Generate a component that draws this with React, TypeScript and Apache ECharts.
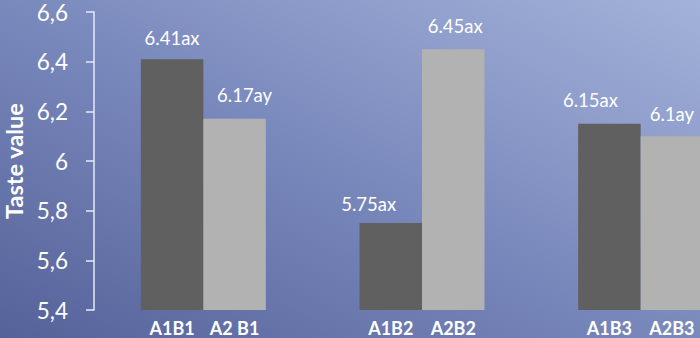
import React, { useEffect, useRef } from "react";
import * as echarts from "echarts";

const categories = ["B1", "B2", "B3"];
const darkNames = ["A1B1", "A1B2", "A1B3"];
const lightNames = ["A2 B1", "A2B2", "A2B3"];
const darkValues = [6.41, 5.75, 6.15];
const lightValues = [6.17, 6.45, 6.1];
const darkLabels = ["6.41ax", "5.75ax", "6.15ax"];
const lightLabels = ["6.17ay", "6.45ax", "6.1ay"];

// label placement tweaks (style, not data)
const darkLabelOffsets = [[0, 1], [-22, 3], [-19, -1]];
const lightLabelOffsets = [[10, -1], [2, -1], [0, 0]];

const FONT = "Lato, 'Open Sans', sans-serif";

export default function App() {
  const ref = useRef<HTMLDivElement>(null);
  useEffect(() => {
    if (!ref.current) return;
    const chart = echarts.init(ref.current, null, { renderer: "svg" });
    const mk = (vals: number[], labels: string[], offs: number[][]) =>
      vals.map((v, i) => ({
        value: v,
        label: { formatter: labels[i], offset: offs[i] },
      }));
    chart.setOption({
      animation: false,
      backgroundColor: new echarts.graphic.LinearGradient(0, 1, 1, 0, [
        { offset: 0, color: "#55629a" },
        { offset: 0.5, color: "#7a89bc" },
        { offset: 1, color: "#a3b2d9" },
      ]),
      grid: {
        left: 94,
        top: 12,
        height: 298,
        width: 656,
        containLabel: false,
        outerBoundsMode: "none",
      },
      xAxis: {
        type: "category",
        data: categories,
        axisLine: { show: false },
        axisTick: { show: false },
        splitLine: { show: false },
        axisLabel: {
          margin: 9,
          interval: 0,
          hideOverlap: false,
          formatter: (_v: string, i: number) =>
            `{a|${darkNames[i]}}{b|${lightNames[i]}}`,
          rich: {
            a: { width: 62.5, align: "center", color: "#ffffff", fontWeight: "bold", fontSize: 18, fontFamily: FONT },
            b: { width: 62.5, align: "center", color: "#ffffff", fontWeight: "bold", fontSize: 18, fontFamily: FONT },
          },
        },
      },
      yAxis: {
        type: "value",
        min: 5.4,
        max: 6.6,
        interval: 0.2,
        name: "Taste value",
        nameLocation: "middle",
        nameGap: 70,
        nameMoveOverlap: false,
        nameTextStyle: { color: "#ffffff", fontWeight: "bold", fontSize: 23.5, lineHeight: 20, fontFamily: FONT },
        axisLine: { show: true, lineStyle: { color: "#e6eaf4", width: 1.5 } },
        axisTick: { show: true, length: 8, lineStyle: { color: "#e6eaf4", width: 1.5 } },
        splitLine: { show: false },
        axisLabel: {
          margin: 26,
          color: "#ffffff",
          fontSize: 22.5,
          fontFamily: FONT,
          formatter: (v: number) =>
            String(Math.round(v * 10) / 10).replace(".", ","),
        },
      },
      series: [
        {
          type: "bar",
          data: mk(darkValues, darkLabels, darkLabelOffsets),
          barWidth: 62.5,
          barGap: "0%",
          itemStyle: { color: "#606060" },
          label: { show: true, position: "top", distance: 13, color: "#ffffff", fontSize: 18.5, fontFamily: FONT },
        },
        {
          type: "bar",
          data: mk(lightValues, lightLabels, lightLabelOffsets),
          barWidth: 62.5,
          barGap: "0%",
          itemStyle: { color: "#b2b2b2" },
          label: { show: true, position: "top", distance: 13, color: "#ffffff", fontSize: 18.5, fontFamily: FONT },
        },
      ],
    });
    return () => chart.dispose();
  }, []);
  return (
    <div
      ref={ref}
      style={{ position: "fixed", left: 0, top: 0, width: 700, height: 338 }}
    />
  );
}
